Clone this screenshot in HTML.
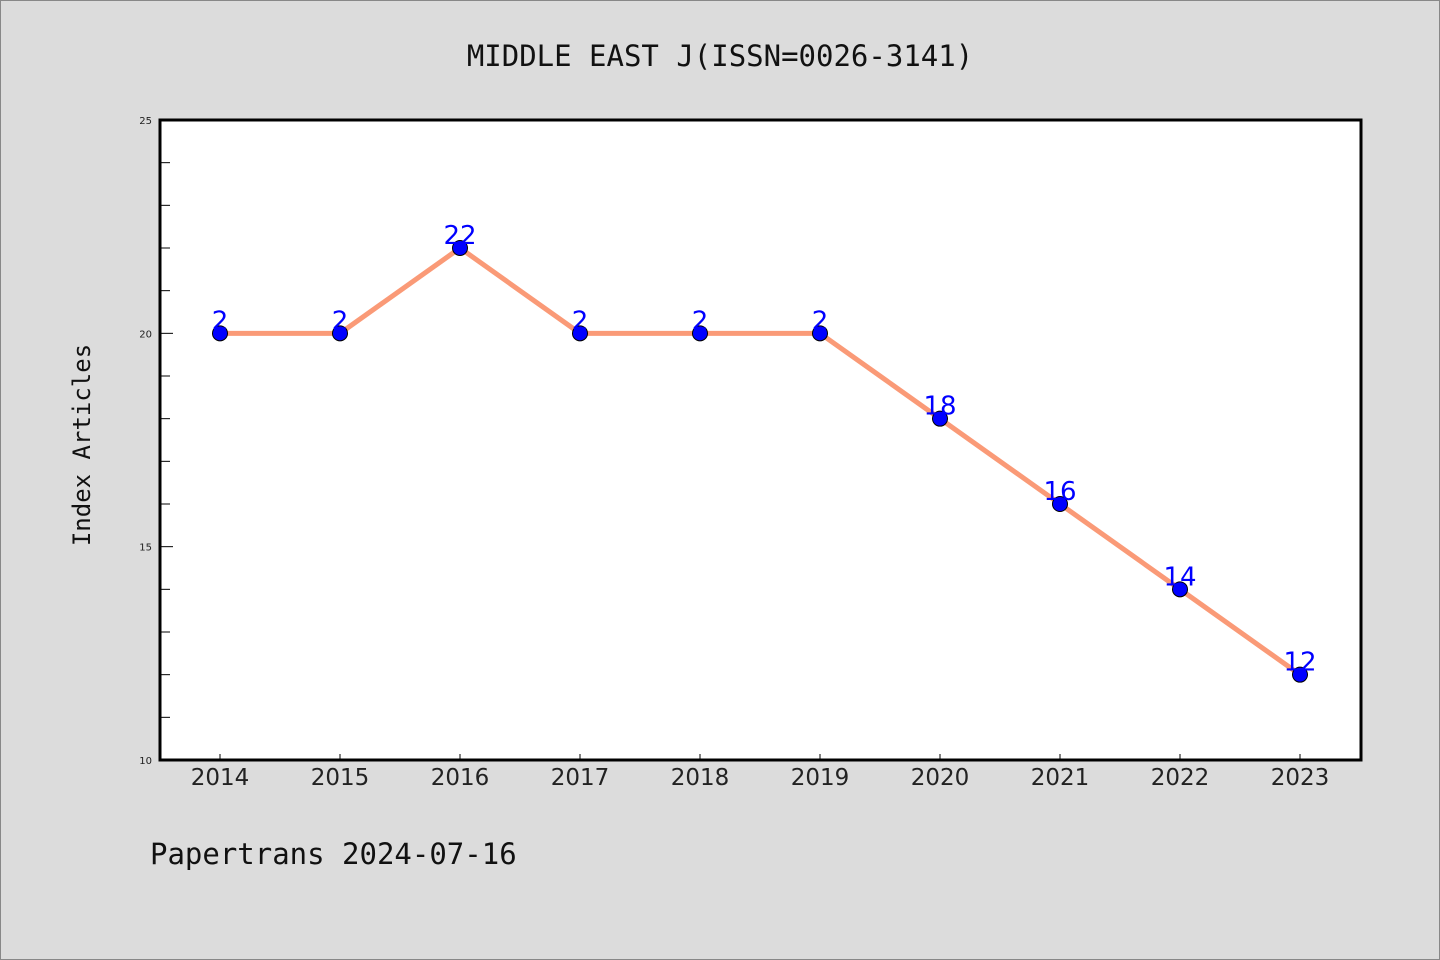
<!DOCTYPE html>
<html><head><meta charset="utf-8"><style>
html,body{margin:0;padding:0;background:#dcdcdc;}
svg{display:block;font-family:"DejaVu Sans","Liberation Sans",sans-serif;}
</style></head><body>
<svg id="chart" width="1440" height="960" xmlns="http://www.w3.org/2000/svg">
<rect x="0.5" y="0.5" width="1439" height="959" fill="#dcdcdc" stroke="#888"/>
<text x="720" y="66" text-anchor="middle" font-size="29" fill="#111" font-family="DejaVu Sans Mono, Liberation Mono, monospace">MIDDLE EAST J(ISSN=0026-3141)</text>
<rect x="160" y="120" width="1201" height="640" fill="#fff"/>
<g id="ticks"></g>
<g id="series"></g>
<rect x="160" y="120" width="1201" height="640" fill="none" stroke="#000" stroke-width="3"/>
<text transform="translate(90,445) rotate(-90)" text-anchor="middle" font-size="24" fill="#111" font-family="DejaVu Sans Mono, Liberation Mono, monospace">Index Articles</text>
<text x="150" y="864" font-size="29" fill="#111" font-family="DejaVu Sans Mono, Liberation Mono, monospace">Papertrans 2024-07-16</text>
</svg>
<script>
const categories=["2014","2015","2016","2017","2018","2019","2020","2021","2022","2023"];
const values=[20,20,22,20,20,20,18,16,14,12];
const pointLabels=["2","2","22","2","2","2","18","16","14","12"];
const yTicks=[10,15,20,25];
const NS="http://www.w3.org/2000/svg";
const yMin=10,yMax=25,plotTop=120,plotBottom=760;
const yScale=v=>plotBottom-(v-yMin)/(yMax-yMin)*(plotBottom-plotTop);
const xScale=i=>220+i*120;
const tg=document.getElementById('ticks'),sg=document.getElementById('series');
function mk(tag,a,p){const e=document.createElementNS(NS,tag);for(const k in a)e.setAttribute(k,a[k]);p.appendChild(e);return e;}
for(let v=yMin;v<=yMax;v++){
  const major=yTicks.includes(v);
  const l=mk('line',{x1:160,x2:160+(major?13:10),y1:yScale(v),y2:yScale(v),stroke:'#000','stroke-width':1},tg);
  
  
}
yTicks.forEach(v=>{
  const t=mk('text',{x:152,y:yScale(v)+4,'text-anchor':'end','font-size':10,fill:'#222'},tg);
  t.textContent=v;
  
  
});
categories.forEach((c,i)=>{
  const l=mk('line',{x1:xScale(i),x2:xScale(i),y1:plotBottom,y2:plotBottom-6,stroke:'#000','stroke-width':1},tg);
  
  
  const t=mk('text',{x:xScale(i),y:785,'text-anchor':'middle','font-size':23,fill:'#222'},tg);
  t.textContent=c;
  
  
});
const pl=mk('polyline',{points:values.map((v,i)=>xScale(i)+','+yScale(v)).join(' '),fill:'none',stroke:'#fa9a77','stroke-width':5},sg);


values.forEach((v,i)=>{
  const c=mk('circle',{cx:xScale(i),cy:yScale(v),r:7.5,fill:'#0000ff',stroke:'#000','stroke-width':1},sg);
  
  
  const t=mk('text',{x:xScale(i),y:yScale(v)-4,'text-anchor':'middle','font-size':26,fill:'#0000ff'},sg);
  t.textContent=pointLabels[i];
  
  
});
</script>
</body></html>
